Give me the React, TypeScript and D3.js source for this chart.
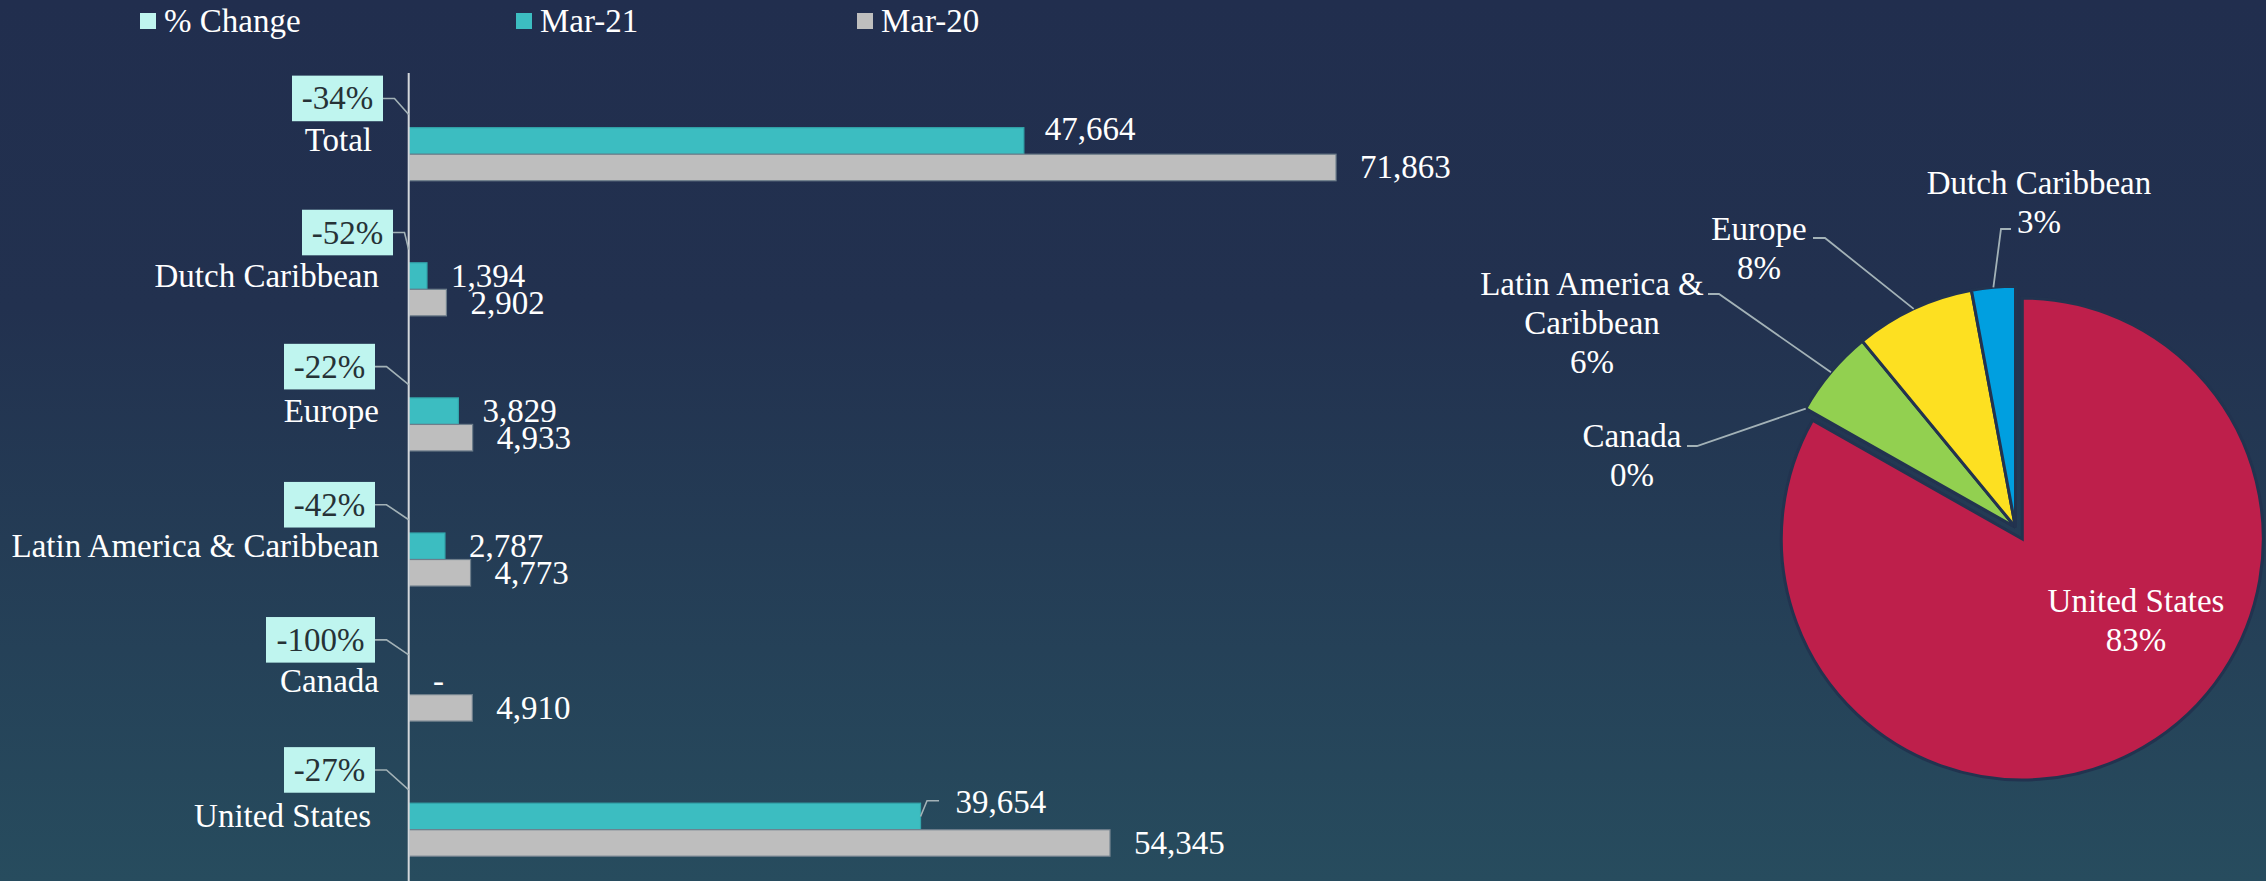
import React from "react";
import * as d3 from "d3";

// ---------- data ----------
const categories = ["Total", "Dutch Caribbean", "Europe", "Latin America & Caribbean", "Canada", "United States"];
const mar21 = [47664, 1394, 3829, 2787, 0, 39654];
const mar20 = [71863, 2902, 4933, 4773, 4910, 54345];
const pctChange = [-34, -52, -22, -42, -100, -27];
const legendLabels = ["% Change", "Mar-21", "Mar-20"];

const pieCategories = ["United States", "Canada", "Latin America & Caribbean", "Europe", "Dutch Caribbean"];
const pieValues = [39654, 0, 2787, 3829, 1394];

// ---------- styles / layout ----------
const FONT = "'Liberation Serif', 'Times New Roman', serif";
const FS = 33;
const C_PCT = "#BFF5EF";
const C_M21 = "#3CBDC1";
const C_M20 = "#BEBEBE";
const pieColors = ["#BE1F4B", "#7F7F7F", "#92D050", "#FDE021", "#009FE0"];
const LEADER = "#A3B2B7";

const legendX = [140, 516, 857];
const catLabelDx = [-7, 0, 0, 0, 0, -8];
const pctBoxRight = [383, 393, 375, 375, 375, 375];
const pctBoxDy = [-16, -17, -18, -15, -15, -20];

const pieLabelLayout = [
  { lines: ["United States"], cx: 2136, y: 612 },
  { lines: ["Canada"], cx: 1632, y: 447, elbow: [1687, 1697, 446] },
  { lines: ["Latin America &", "Caribbean"], cx: 1592, y: 295, elbow: [1708, 1719, 294] },
  { lines: ["Europe"], cx: 1759, y: 240, elbow: [1813, 1825, 238] },
  { lines: ["Dutch Caribbean"], cx: 2039, y: 194, elbow: [2011, 2001, 229] },
];

export default function App() {
  const W = 2266, H = 881;
  const x = d3.scaleLinear().domain([0, 80000]).range([409, 1441]);
  const y = d3.scaleBand<string>().domain(categories).range([73.4, 884]).paddingInner(0.411).paddingOuter(0.2055);
  const sub = d3.scaleBand<string>().domain(["pct", "m21", "m20"]).range([0, y.bandwidth()]);
  const bw = sub.bandwidth();
  const fmt = (v: number) => (v === 0 ? "-" : d3.format(",")(v));

  const valueLabelAdj: Record<string, { dx: number; dy: number; leader?: boolean }> = {
    "m21-0": { dx: -3, dy: -12 },
    "m21-5": { dx: 11, dy: -14.5, leader: true },
  };

  // pie
  const cx = 2015.5, cy = 527.3, R = 241;
  const pieGen = d3.pie<number>().sort(null).value((d) => d);
  const arcs = pieGen(pieValues);
  const arcGen = d3.arc<d3.PieArcDatum<number>>().innerRadius(0).outerRadius(R);
  const total = d3.sum(pieValues);

  return (
    <svg width={W} height={H} style={{ position: "absolute", left: 0, top: 0 }} fontFamily={FONT}>
      <defs>
        <linearGradient id="bg" x1="0" y1="0" x2="0" y2="1">
          <stop offset="0" stopColor="#212E4E" />
          <stop offset="0.35" stopColor="#22314F" />
          <stop offset="1" stopColor="#274C5E" />
        </linearGradient>
      </defs>
      <rect x={0} y={0} width={W} height={H} fill="url(#bg)" />

      {/* legend */}
      {legendLabels.map((l, i) => (
        <g key={l}>
          <rect x={legendX[i]} y={13} width={16} height={16} fill={[C_PCT, C_M21, C_M20][i]} />
          <text x={legendX[i] + 24} y={31.5} fill="#fff" fontSize={FS}>{l}</text>
        </g>
      ))}

      {/* bars */}
      {categories.map((c, i) => {
        const y0 = y(c)!;
        const yT = y0 + sub("m21")!;
        const yG = y0 + sub("m20")!;
        return (
          <g key={c}>
            {mar21[i] > 0 && (
              <rect x={x(0)} y={yT} width={x(mar21[i]) - x(0)} height={bw} fill={C_M21} stroke="#33A6AC" strokeWidth={1.2} />
            )}
            <rect x={x(0)} y={yG} width={x(mar20[i]) - x(0)} height={bw} fill={C_M20} stroke="#6E7E8B" strokeWidth={1.2} />
          </g>
        );
      })}

      {/* value labels */}
      {categories.map((c, i) =>
        (["m21", "m20"] as const).map((s) => {
          const v = s === "m21" ? mar21[i] : mar20[i];
          const yc = y(c)! + sub(s)! + bw / 2;
          const adj = valueLabelAdj[`${s}-${i}`] || { dx: 0, dy: 0 };
          const tx = x(v) + 24 + adj.dx;
          const ty = yc + 11 + adj.dy;
          return (
            <g key={c + s}>
              {adj.leader && (
                <path
                  d={`M${x(v)},${yc} L${x(v) + 6.5},${yc - 15.7} L${x(v) + 18.5},${yc - 15.7}`}
                  fill="none" stroke={LEADER} strokeWidth={1.6}
                />
              )}
              <text x={tx} y={ty} fill="#fff" fontSize={FS}>{fmt(v)}</text>
            </g>
          );
        })
      )}

      {/* axis line */}
      <line x1={408.7} x2={408.7} y1={73} y2={H} stroke="#D3D7DB" strokeWidth={2} />

      {/* category labels */}
      {categories.map((c, i) => {
        const yc = y(c)! + sub("m21")! + bw / 2;
        return (
          <text key={c} x={379 + catLabelDx[i]} y={yc + 10.5} fill="#fff" fontSize={FS} textAnchor="end">{c}</text>
        );
      })}

      {/* % change boxes */}
      {categories.map((c, i) => {
        const endY = y(c)! + sub("pct")! + bw / 2;
        const label = `${pctChange[i]}%`;
        const bwid = 91 + (label.length - 4) * 18;
        const right = pctBoxRight[i];
        const bcy = endY + pctBoxDy[i];
        const elbowX = Math.min(right + 11.5, 405);
        return (
          <g key={c + "pct"}>
            <path d={`M${right},${bcy} L${elbowX},${bcy} L${408.7},${endY}`} fill="none" stroke={LEADER} strokeWidth={1.6} />
            <rect x={right - bwid} y={bcy - 22.8} width={bwid} height={45.6} fill={C_PCT} />
            <text x={right - bwid / 2} y={bcy + 11} fill="#263236" fontSize={FS} textAnchor="middle">{label}</text>
          </g>
        );
      })}

      {/* pie */}
      <g>
        {arcs.map((a, i) => {
          const mid = (a.startAngle + a.endAngle) / 2;
          const off = i === 0 ? 13.5 : 0;
          const tx = cx + Math.sin(mid) * off;
          const ty = cy - Math.cos(mid) * off;
          return (
            <path key={pieCategories[i]} d={arcGen(a) || ""} transform={`translate(${tx},${ty})`}
              fill={pieColors[i]} stroke="#22334F" strokeWidth={3} strokeLinejoin="miter" />
          );
        })}
        {arcs.map((a, i) => {
          const L = pieLabelLayout[i];
          const mid = (a.startAngle + a.endAngle) / 2;
          const pct = `${Math.round((pieValues[i] / total) * 100)}%`;
          const lines = [...L.lines, pct];
          let leader = null;
          if (L.elbow) {
            const ex = cx + Math.sin(mid) * R;
            const ey = cy - Math.cos(mid) * R;
            leader = (
              <path d={`M${L.elbow[0]},${L.elbow[2]} L${L.elbow[1]},${L.elbow[2]} L${ex},${ey}`}
                fill="none" stroke={LEADER} strokeWidth={1.8} />
            );
          }
          return (
            <g key={pieCategories[i] + "lbl"}>
              {leader}
              {lines.map((t, k) => (
                <text key={k} x={L.cx} y={L.y + k * 39} fill="#fff" fontSize={FS} textAnchor="middle">{t}</text>
              ))}
            </g>
          );
        })}
      </g>
    </svg>
  );
}
